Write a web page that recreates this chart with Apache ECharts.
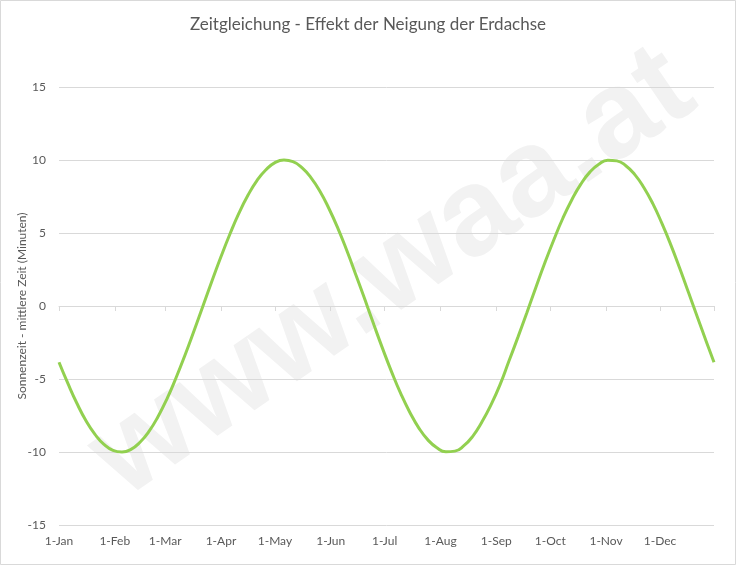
<!DOCTYPE html>
<html>
<head>
<meta charset="utf-8">
<script src="https://cdn.jsdelivr.net/npm/echarts@6/dist/echarts.min.js"></script>
<style>
html,body{margin:0;padding:0;background:#fff;}
#c{width:736px;height:565px;}
</style>
</head>
<body>
<div id="c"></div>
<script>
// Day of year (0 = 1-Jan)
var days = [0,5,10,15,20,25,30,35,40,45,50,55,60,65,70,75,80,85,90,95,100,105,110,115,120,125,130,135,140,145,150,155,160,165,170,175,180,185,190,195,200,205,210,215,220,225,230,235,240,245,250,255,260,265,270,275,280,285,290,295,300,305,310,315,320,325,330,335,340,345,350,355,360,364];
// Sonnenzeit - mittlere Zeit (Minuten)
var values = [-3.85,-5.32,-6.68,-7.86,-8.79,-9.48,-9.89,-10,-9.82,-9.33,-8.59,-7.58,-6.36,-4.93,-3.37,-1.71,0,1.71,3.37,4.93,6.36,7.58,8.59,9.33,9.82,10,9.89,9.48,8.79,7.86,6.68,5.32,3.78,2.13,0.44,-1.29,-2.97,-4.56,-6.02,-7.29,-8.36,-9.17,-9.71,-9.98,-9.94,-9.57,-8.91,-7.95,-6.79,-5.42,-3.79,-2.15,-0.46,1.27,2.96,4.54,6.01,7.28,8.35,9.17,9.71,9.98,9.94,9.61,9.0,8.12,7.01,5.67,4.19,2.57,0.87,-0.84,-2.53,-3.85];
// Month starts (day of year) and their labels
var monthDays = [0,31,59,90,120,151,181,212,243,273,304,334];
var monthLabels = ['1-Jan','1-Feb','1-Mar','1-Apr','1-May','1-Jun','1-Jul','1-Aug','1-Sep','1-Oct','1-Nov','1-Dec'];

var chart = echarts.init(document.getElementById('c'), null, {renderer:'canvas'});
var font = 'Lato, "Open Sans", sans-serif';
var lc = '#595959';
var option = {
  animation:false,
  backgroundColor:'#fff',
  title:{
    text:'Zeitgleichung - Effekt der Neigung der Erdachse',
    left:'center', top:11,
    textStyle:{fontFamily:font, fontSize:17, fontWeight:'normal', color:lc}
  },
  grid:{left:59, right:22, top:87, bottom:40, containLabel:false},
  graphic:[
    {type:'rect', shape:{x:0.5,y:0.5,width:735,height:564}, style:{fill:null, stroke:'#d9d9d9', lineWidth:1}, z:100, silent:true},
    {type:'text', x:393, y:274, rotation:0.6, z:-10, zlevel:0, silent:true,
     style:{text:'www.waa.at', fontFamily:'"Liberation Sans", Arial, sans-serif', fontWeight:'bold', fontSize:124, fill:'#f2f2f2', align:'center', verticalAlign:'middle'}}
  ],
  xAxis:{
    type:'value', min:0, max:364,
    axisLine:{show:true, lineStyle:{color:'#d9d9d9'}},
    axisTick:{show:true, length:5, customValues:monthDays.concat([364]), lineStyle:{color:'#d9d9d9'}},
    axisLabel:{customValues:monthDays, color:lc, fontFamily:font, fontSize:12, margin:10,
      formatter:function(v){var i=monthDays.indexOf(Math.round(v)); return i>=0?monthLabels[i]:'';}},
    splitLine:{show:false}
  },
  yAxis:{
    type:'value', min:-15, max:15, interval:5,
    name:'Sonnenzeit - mittlere Zeit (Minuten)', nameLocation:'middle', nameGap:31, nameRotate:90,
    nameMoveOverlap:false,
    nameTextStyle:{color:lc, fontFamily:font, fontSize:12},
    axisLine:{show:false}, axisTick:{show:false},
    axisLabel:{color:lc, fontFamily:font, fontSize:12, margin:13},
    splitLine:{lineStyle:{color:'#d9d9d9'}}
  },
  series:[{
    type:'line', smooth:true, showSymbol:false, z:5,
    data:days.map(function(d,i){return [d, values[i]];}),
    lineStyle:{color:'#92d050', width:3}
  }]
};
chart.setOption(option);
</script>
</body>
</html>
